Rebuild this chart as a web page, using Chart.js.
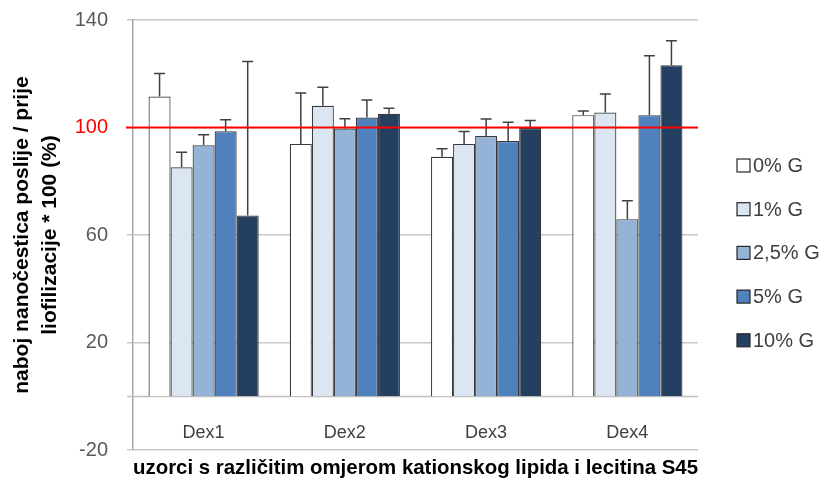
<!DOCTYPE html>
<html>
<head>
<meta charset="utf-8">
<script src="https://cdn.jsdelivr.net/npm/chart.js@4"></script>
<style>
  html, body { margin: 0; padding: 0; background: #ffffff; }
  #wrap { width: 825px; height: 481px; }
</style>
</head>
<body>
<div id="wrap"><canvas id="c" width="825" height="481"></canvas></div>
<script>
// ---- data ----
const categories = ['Dex1', 'Dex2', 'Dex3', 'Dex4'];
const seriesNames = ['0% G', '1% G', '2,5% G', '5% G', '10% G'];
const g0  = [111.5, 93.9, 89.1, 104.6];
const g1  = [85.2, 108.1, 93.9, 105.6];
const g25 = [93.4, 99.6, 96.8, 65.9];
const g5  = [98.6, 103.7, 95.0, 104.6];
const g10 = [67.3, 105.1, 99.8, 123.2];
const e0  = [8.6, 18.9, 3.0, 1.5];
const e1  = [5.6, 6.9, 4.6, 6.9];
const e25 = [3.9, 3.7, 6.4, 6.8];
const e5  = [4.3, 6.5, 7.0, 22.1];
const e10 = [57.3, 2.1, 2.8, 9.1];
const yTicks = [-20, 20, 60, 100, 140];
const referenceValue = 100;

// ---- styles ----
const fills = ['#ffffff', '#dce6f2', '#95b3d7', '#4f81bd', '#243f60'];
const FONT = "'Liberation Sans', Arial, sans-serif";

const values = [g0, g1, g25, g5, g10];
const errors = [e0, e1, e25, e5, e10];

const datasets = seriesNames.map((name, i) => ({
  label: name,
  data: values[i],
  errUp: errors[i],
  backgroundColor: fills[i],
  borderColor: '#3a3a3a',
  borderWidth: 1.2,
  categoryPercentage: 0.78,
  barPercentage: 1.0
}));

const extrasPlugin = {
  id: 'extras',
  beforeDatasetsDraw(chart) {
    const { ctx, chartArea, scales } = chart;
    const y = scales.y;
    const y0 = Math.round(y.getPixelForValue(0)) + 0.5;
    ctx.save();
    ctx.strokeStyle = '#bfbfbf';
    ctx.lineWidth = 1.5;
    ctx.beginPath();
    ctx.moveTo(chartArea.left - 6, y0);
    ctx.lineTo(chartArea.right, y0);
    ctx.stroke();
    ctx.restore();
  },
  afterDatasetsDraw(chart) {
    const { ctx, chartArea, scales } = chart;
    const y = scales.y;
    ctx.save();
    ctx.strokeStyle = '#404040';
    ctx.lineWidth = 1.5;
    chart.data.datasets.forEach((ds, di) => {
      const meta = chart.getDatasetMeta(di);
      meta.data.forEach((bar, j) => {
        const v = ds.data[j];
        const e = ds.errUp[j];
        const x = bar.x;
        const yTop = y.getPixelForValue(v + e);
        const yVal = y.getPixelForValue(v);
        ctx.beginPath();
        ctx.moveTo(x, yVal);
        ctx.lineTo(x, yTop);
        ctx.moveTo(x - 5.5, yTop);
        ctx.lineTo(x + 5.5, yTop);
        ctx.stroke();
      });
    });
    const yr = y.getPixelForValue(referenceValue);
    ctx.strokeStyle = '#ff0000';
    ctx.lineWidth = 2;
    ctx.beginPath();
    ctx.moveTo(chartArea.left - 7, yr);
    ctx.lineTo(chartArea.right, yr);
    ctx.stroke();
    ctx.restore();
  },
  afterDraw(chart) {
    const { ctx } = chart;
    const x0 = 737, top = 165.5, step = 43.7, box = 13;
    ctx.save();
    ctx.font = '20px ' + FONT;
    ctx.textBaseline = 'middle';
    ctx.textAlign = 'left';
    chart.data.datasets.forEach((ds, i) => {
      const cy = top + i * step;
      ctx.fillStyle = ds.backgroundColor;
      ctx.fillRect(x0, cy - box / 2, box, box);
      ctx.strokeStyle = '#262626';
      ctx.lineWidth = 1.2;
      ctx.strokeRect(x0, cy - box / 2, box, box);
      ctx.fillStyle = '#404040';
      ctx.fillText(ds.label, x0 + box + 3, cy + 1);
    });
    ctx.restore();
  }
};

new Chart(document.getElementById('c'), {
  type: 'bar',
  data: { labels: categories, datasets },
  options: {
    responsive: false,
    animation: false,
    devicePixelRatio: 1,
    layout: { padding: { left: 0, right: 127, top: 20, bottom: 0 } },
    plugins: { legend: { display: false }, tooltip: { enabled: false } },
    scales: {
      x: {
        grid: { display: false, drawTicks: false },
        border: { display: false },
        ticks: {
          color: '#404040',
          font: { family: FONT, size: 18 },
          mirror: true,
          padding: 6
        },
        title: {
          display: true,
          text: 'uzorci s različitim omjerom kationskog lipida i lecitina S45',
          color: '#000000',
          font: { family: FONT, size: 21, weight: 'bold' },
          padding: { top: 0, bottom: 0 }
        },
        afterFit(scale) { scale.height = 31; scale.paddingLeft = 0; scale.paddingRight = 0; }
      },
      y: {
        min: -20,
        max: 140,
        afterBuildTicks(scale) { scale.ticks = yTicks.map(v => ({ value: v })); },
        grid: { color: '#c8c8c8', lineWidth: 1.5, tickLength: 6 },
        border: { display: true, color: '#a6a6a6', width: 1.5 },
        ticks: {
          color: (c) => (c.tick && c.tick.value === referenceValue ? '#ff0000' : '#595959'),
          font: { family: FONT, size: 20 },
          padding: 19
        },
        title: {
          display: true,
          text: ['naboj nanočestica poslije / prije', 'liofilizacije * 100 (%)'],
          color: '#000000',
          font: { family: FONT, size: 21, weight: 'bold', lineHeight: 1.3 },
          padding: { top: 9, bottom: 0 }
        },
        afterFit(scale) { scale.width = 133; scale.paddingTop = 0; scale.paddingBottom = 0; }
      }
    }
  },
  plugins: [extrasPlugin]
});
</script>
</body>
</html>
